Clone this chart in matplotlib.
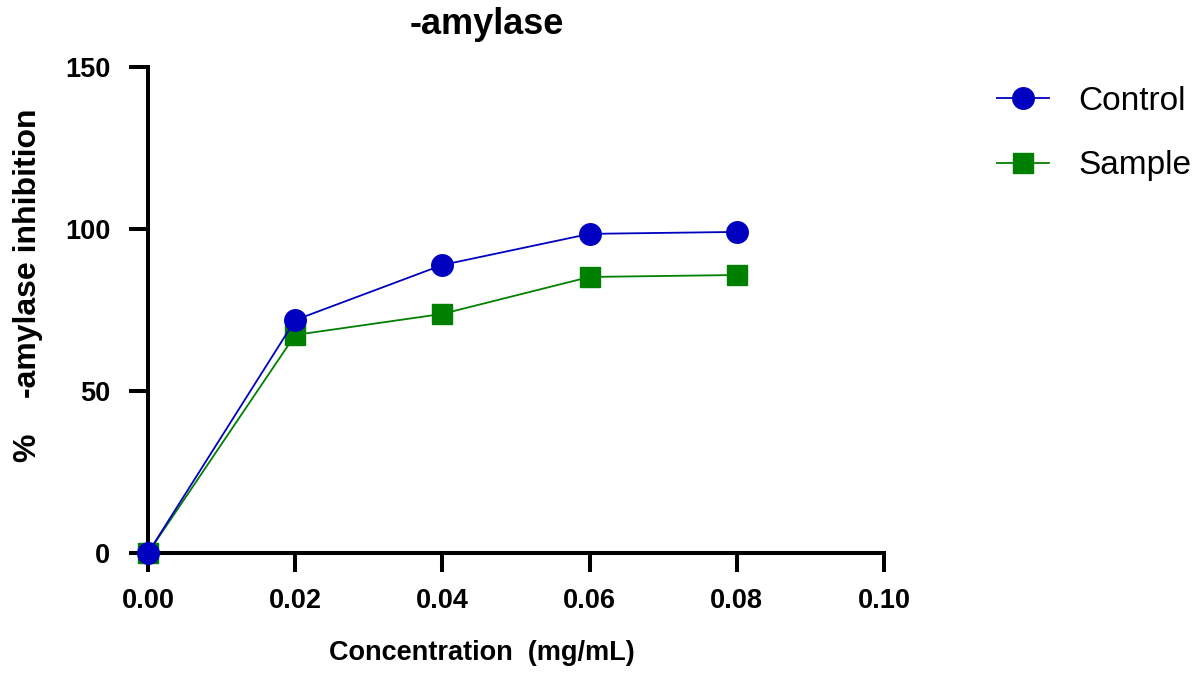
import matplotlib.pyplot as plt

plt.rcParams['font.family'] = ['Liberation Sans', 'DejaVu Sans']

conc = [0.00, 0.02, 0.04, 0.06, 0.08]
control = [0.0, 71.9, 88.9, 98.5, 99.1]
sample = [0.0, 67.3, 73.8, 85.2, 85.8]

xticks = [0.00, 0.02, 0.04, 0.06, 0.08, 0.10]
yticks = [0, 50, 100, 150]

fig = plt.figure(figsize=(11.98, 6.75), dpi=100)
ax = fig.add_axes([148/1198, 1 - 553/675, 736/1198, 486/675])

ax.plot(conc, sample, color='#008000', lw=1.3, marker='s', ms=14,
        mec='#008000', mfc='#008000', label='Sample', zorder=3, clip_on=False)
ax.plot(conc, control, color='#0000C0', lw=1.3, marker='o', ms=15.5,
        mec='#0000C0', mfc='#0000C0', label='Control', zorder=4, clip_on=False)

ax.set_xlim(0, 0.10)
ax.set_ylim(0, 150)
ax.set_xticks(xticks)
ax.set_xticklabels(['%.2f' % v for v in xticks])
ax.set_yticks(yticks)

for s in ['top', 'right']:
    ax.spines[s].set_visible(False)
for s in ['left', 'bottom']:
    ax.spines[s].set_linewidth(2.9)
ax.tick_params(width=2.9, length=14, labelsize=19.5)
ax.tick_params(axis='x', pad=11)
ax.tick_params(axis='y', pad=13)
for lab in ax.get_xticklabels() + ax.get_yticklabels():
    lab.set_fontweight('bold')

fig.text(487/1198, 1 - 24/675, '-amylase', fontsize=26, fontweight='bold',
         ha='center', va='center')
ax.set_xlabel('Concentration  (mg/mL)', fontsize=19.5, fontweight='bold')
ax.xaxis.set_label_coords((482 - 148)/736, -(640 - 553)/486)
ax.set_ylabel('%    -amylase inhibition', fontsize=23, fontweight='bold')
ax.yaxis.set_label_coords(-(148 - 43)/736, (553 - 285)/486)

h, l = ax.get_legend_handles_labels()
ax.legend(h[::-1], l[::-1], loc='upper left',
          bbox_to_anchor=(997/1198, 1 - 86/675), bbox_transform=fig.transFigure,
          borderaxespad=0, borderpad=0, frameon=False, fontsize=24,
          handlelength=1.55, labelspacing=1.0, handletextpad=0.9)

fig.savefig('out.png', dpi=100)
